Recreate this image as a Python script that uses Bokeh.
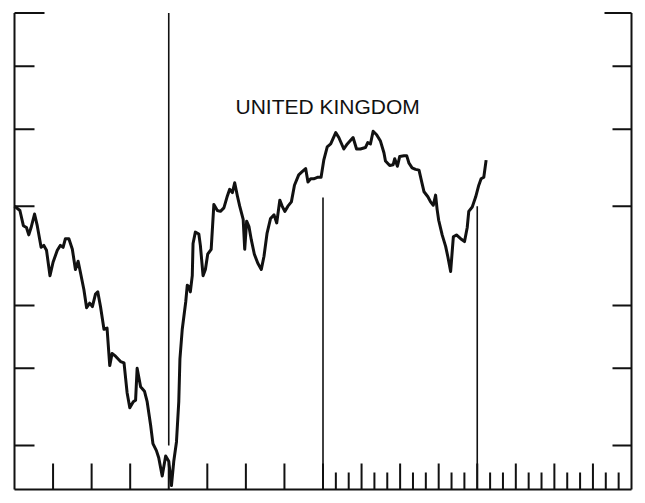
from bokeh.plotting import figure
from bokeh.models import Range1d, Label, ColumnDataSource
from bokeh.embed import file_html
from bokeh.resources import INLINE

# ---- data (x in years from start of chart, y on a log index scale) ----
years = [
    0.00, 0.14, 0.23, 0.31, 0.37, 0.43, 0.52, 0.59, 0.69, 0.76,
    0.83, 0.92, 1.00, 1.11, 1.19, 1.26, 1.32, 1.41, 1.50, 1.58,
    1.65, 1.71, 1.80, 1.87, 1.95, 2.02, 2.10, 2.16, 2.23, 2.32,
    2.40, 2.47, 2.53, 2.62, 2.75, 2.84, 2.92, 2.99, 3.08, 3.14,
    3.18, 3.27, 3.37, 3.44, 3.53, 3.59, 3.68, 3.74, 3.83, 3.92,
    4.00, 4.07, 4.13, 4.20, 4.26, 4.29, 4.35, 4.44, 4.48, 4.52,
    4.56, 4.61, 4.63, 4.69, 4.78, 4.82, 4.89, 4.95, 5.01, 5.10,
    5.17, 5.26, 5.34, 5.43, 5.52, 5.58, 5.65, 5.71, 5.78, 5.84,
    5.93, 5.97, 6.02, 6.08, 6.14, 6.22, 6.31, 6.40, 6.47, 6.55,
    6.64, 6.73, 6.80, 6.88, 6.94, 7.01, 7.09, 7.18, 7.26, 7.37,
    7.46, 7.55, 7.61, 7.68, 7.76, 7.87, 7.95, 8.02, 8.11, 8.20,
    8.33, 8.41, 8.54, 8.63, 8.78, 8.87, 8.97, 9.10, 9.16, 9.23,
    9.30, 9.39, 9.49, 9.58, 9.62, 9.73, 9.82, 9.86, 9.93, 9.99,
    10.10, 10.17, 10.23, 10.31, 10.40, 10.49, 10.57, 10.62, 10.72, 10.79,
    10.86, 10.92, 10.96, 11.00, 11.09, 11.18, 11.24, 11.31, 11.38, 11.46,
    11.57, 11.67, 11.74, 11.78, 11.87, 11.96, 12.04, 12.10, 12.17, 12.23,
]
uk_values = [
    4.00, 3.95, 3.78, 3.76, 3.68, 3.76, 3.91, 3.78, 3.55, 3.57,
    3.52, 3.27, 3.40, 3.52, 3.57, 3.55, 3.64, 3.64, 3.53, 3.33,
    3.41, 3.30, 3.14, 2.98, 3.02, 2.99, 3.10, 3.12, 2.99, 2.80,
    2.81, 2.52, 2.61, 2.59, 2.55, 2.54, 2.33, 2.23, 2.27, 2.28,
    2.50, 2.37, 2.34, 2.27, 2.12, 2.01, 1.97, 1.93, 1.83, 1.94,
    1.91, 1.78, 1.91, 2.02, 2.27, 2.57, 2.80, 3.03, 3.18, 3.17,
    3.12, 3.27, 3.59, 3.71, 3.69, 3.57, 3.27, 3.33, 3.48, 3.53,
    4.02, 3.95, 3.94, 3.98, 4.12, 4.20, 4.16, 4.28, 4.12, 4.00,
    3.85, 3.53, 3.83, 3.77, 3.63, 3.48, 3.39, 3.33, 3.46, 3.70,
    3.86, 3.90, 3.81, 4.07, 4.00, 3.94, 4.00, 4.05, 4.25, 4.38,
    4.42, 4.46, 4.29, 4.33, 4.33, 4.35, 4.35, 4.57, 4.75, 4.79,
    4.95, 4.88, 4.72, 4.79, 4.88, 4.72, 4.72, 4.74, 4.81, 4.79,
    4.97, 4.92, 4.83, 4.67, 4.56, 4.50, 4.51, 4.59, 4.49, 4.62,
    4.63, 4.63, 4.53, 4.47, 4.45, 4.44, 4.27, 4.17, 4.11, 4.05,
    4.01, 4.13, 3.96, 3.84, 3.68, 3.56, 3.45, 3.31, 3.66, 3.68,
    3.64, 3.61, 3.76, 3.94, 3.99, 4.11, 4.25, 4.33, 4.35, 4.57,
]

# vertical reference lines (turning points)
event_years = [4, 8, 12]
event_top = [7.0, 4.1, 4.0]
event_bottom = [2.0, 1.76, 1.76]

# axis ticks (the original has no tick labels)
y_ticks = [2, 2.5, 3, 4, 5, 6, 7]
year_ticks = list(range(1, 16))
third_ticks = [8 + k / 3 for k in range(1, 24) if k % 3 != 0]

title_text = "UNITED KINGDOM"
title_x, title_y = 8.12, 5.34

# ---- geometry ----
X_MIN, X_MAX = 0.0, 16.0
Y_MIN, Y_MAX = 1.76, 7.0
PLOT_W_PX = 617.0          # width of the data area in pixels
PLOT_H_PX = 476.5          # height of the data area in pixels
import math
PX_PER_YEAR = PLOT_W_PX / (X_MAX - X_MIN)
PX_PER_DECADE = PLOT_H_PX / math.log10(Y_MAX / Y_MIN)
PAD_L, PAD_R, PAD_T, PAD_B = 2.0, 2.0, 2.5, 2.0


def dx(px):
    return px / PX_PER_YEAR


def ymul(v, px):
    return v * 10 ** (px / PX_PER_DECADE)


x_range = Range1d(X_MIN - dx(PAD_L), X_MAX + dx(PAD_R))
y_range = Range1d(ymul(Y_MIN, -PAD_B), ymul(Y_MAX, PAD_T))

frame_w = int(round(PLOT_W_PX + PAD_L + PAD_R))
frame_h = int(round(PLOT_H_PX + PAD_T + PAD_B))
BL, BR, BT, BB = 12, 8, 10, 8

p = figure(width=BL + frame_w + BR, height=BT + frame_h + BB,
           output_backend="svg", toolbar_location=None,
           y_axis_type="log", x_axis_location=None, y_axis_location=None,
           x_range=x_range, y_range=y_range,
           min_border_left=BL, min_border_right=BR, min_border_top=BT,
           min_border_bottom=BB)
p.background_fill_color = "white"
p.border_fill_color = "white"
p.outline_line_color = None
p.grid.visible = False

INK = "#111111"

# frame: left, right and bottom axis lines
p.segment(x0=[X_MIN, X_MAX, X_MIN], y0=[Y_MIN, Y_MIN, Y_MIN],
          x1=[X_MIN, X_MAX, X_MAX], y1=[Y_MAX, Y_MAX, Y_MIN],
          line_color=INK, line_width=2)

# side ticks pointing inward (longer at the top corners)
left_len = [dx(30) if t == Y_MAX else dx(20) for t in y_ticks]
right_len = [dx(27) if t == Y_MAX else dx(19) for t in y_ticks]
p.segment(x0=[X_MIN] * len(y_ticks), y0=y_ticks,
          x1=[X_MIN + L for L in left_len], y1=y_ticks,
          line_color=INK, line_width=2)
p.segment(x0=[X_MAX] * len(y_ticks), y0=y_ticks,
          x1=[X_MAX - L for L in right_len], y1=y_ticks,
          line_color=INK, line_width=2)

# bottom ticks: years, plus thirds of a year in the second half
p.segment(x0=year_ticks, y0=[Y_MIN] * len(year_ticks),
          x1=year_ticks, y1=[ymul(Y_MIN, 26)] * len(year_ticks),
          line_color=INK, line_width=2)
p.segment(x0=third_ticks, y0=[Y_MIN] * len(third_ticks),
          x1=third_ticks, y1=[ymul(Y_MIN, 17)] * len(third_ticks),
          line_color=INK, line_width=2)

# turning-point lines
p.segment(x0=event_years, y0=event_bottom, x1=event_years, y1=event_top,
          line_color=INK, line_width=1.6)

# the series
src = ColumnDataSource(dict(x=years, y=uk_values))
p.line("x", "y", source=src, line_color=INK, line_width=3, line_join="round")

p.add_layout(Label(x=title_x, y=title_y, text=title_text, text_align="center",
                   text_baseline="alphabetic", text_font="Liberation Sans",
                   text_font_size="21px", text_color=INK))

open("out.html", "w").write(file_html(p, INLINE))
